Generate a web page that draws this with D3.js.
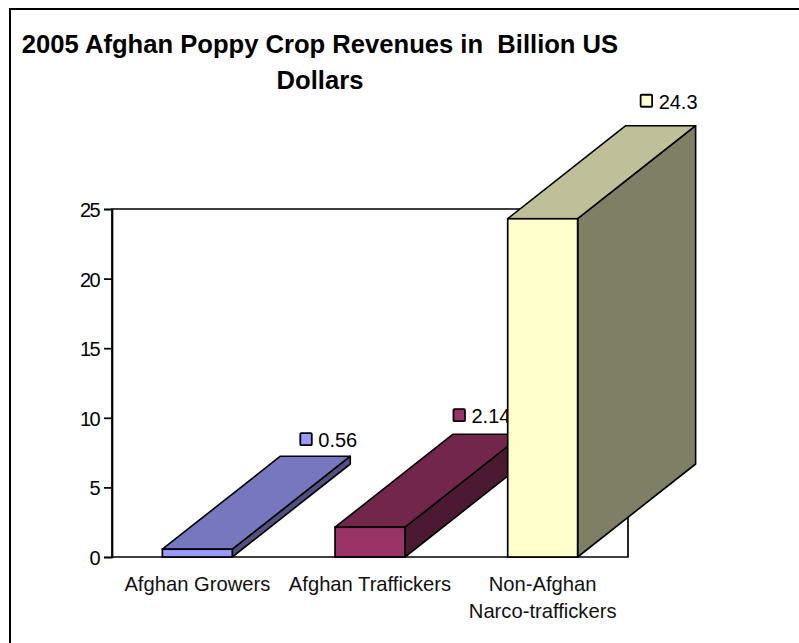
<!DOCTYPE html>
<html><head><meta charset="utf-8">
<script src="https://cdn.jsdelivr.net/npm/d3@7"></script>
<style>html,body{margin:0;padding:0;background:#fff;overflow:hidden}svg{display:block}text{font-family:"Liberation Sans",Arial,sans-serif;fill:#000}</style>
</head><body><svg id="c" width="799" height="643"></svg>
<script>
const categories = ["Afghan Growers", "Afghan Traffickers", "Non-Afghan|Narco-traffickers"];
const values = [0.56, 2.14, 24.3];
const valueLabels = ["0.56", "2.14", "24.3"];
const frontColors = ["#9999ff", "#993366", "#ffffcc"];
const topColors = ["#7777bf", "#72264c", "#bfbf99"];
const sideColors = ["#51517f", "#4c1933", "#7f7f66"];
const yTicks = [0, 5, 10, 15, 20, 25];
const titleLines = ["2005 Afghan Poppy Crop Revenues in  Billion US", "Dollars"];

const svg = d3.select("#c");
// chart frame: top and left edges are inside the window, the others run off it
svg.append("path").attr("d","M10,700V9H810").attr("fill","none").attr("stroke","#000").attr("stroke-width",2);

const x = d3.scaleBand().domain(categories).range([111,629]).paddingInner(0.595).paddingOuter(0.2975);
const y = d3.scaleLinear().domain([0,25]).range([557,209]);
const depthX = 118, depthY = -93;
const wallL = 112, wallR = 628;

svg.append("path").attr("d",`M${wallL},${y(25)}H${wallR}V${y(0)}H${wallL}Z`).attr("fill","#fff").attr("stroke","#000").attr("stroke-width",1.7);

const axis = d3.axisLeft(y).tickValues(yTicks).tickSize(8).tickPadding(5);
const ag = svg.append("g").attr("transform",`translate(${wallL},0)`).call(axis);
ag.select(".domain").attr("stroke","#000").attr("stroke-width",1.7);
ag.selectAll(".tick line").attr("stroke","#000").attr("stroke-width",1.7);
ag.selectAll(".tick text").attr("font-size",20).attr("font-family",'"Liberation Sans"').attr("letter-spacing",-1.6).attr("fill","#111").attr("dy","0.37em");

// the data labels sit by hand above each bar's back edge
const labelShift = {"0.56":[-50,-23], "2.14":[-69.5,-25], "24.3":[-55,-31]};
const pts = a => a.map(p=>p.join(",")).join(" ");
const g = svg.selectAll(".bar").data(d3.range(values.length)).join("g").attr("class","bar");
g.each(function(i){
  const s = d3.select(this), x0=x(categories[i]), x1=x0+x.bandwidth(), t=y(values[i]), b=y(0);
  const bx=x1+depthX, by=t+depthY, [sx,sy]=labelShift[valueLabels[i]];
  s.append("rect").attr("x",bx+sx).attr("y",by+sy).attr("width",11.5).attr("height",12).attr("rx",1).attr("fill",frontColors[i]).attr("stroke","#000").attr("stroke-width",1.8);
  s.append("text").attr("x",bx+sx+18).attr("y",by+sy+14).attr("font-size",20).attr("fill","#111").text(valueLabels[i]);
  s.append("polygon").attr("points",pts([[x1,b],[x1+depthX,b+depthY],[x1+depthX,t+depthY],[x1,t]])).attr("fill",sideColors[i]).attr("stroke","#000").attr("stroke-width",1.6).attr("stroke-linejoin","round");
  s.append("polygon").attr("points",pts([[x0,t],[x0+depthX,t+depthY],[x1+depthX,t+depthY],[x1,t]])).attr("fill",topColors[i]).attr("stroke","#000").attr("stroke-width",1.6).attr("stroke-linejoin","round");
  s.append("rect").attr("x",x0).attr("y",t).attr("width",x.bandwidth()).attr("height",b-t).attr("fill",frontColors[i]).attr("stroke","#000").attr("stroke-width",1.7);
});

categories.forEach(c=>{
  const t = svg.append("text").attr("text-anchor","middle").attr("font-size",20.2).style("fill","#111");
  c.split("|").forEach((l,k)=>t.append("tspan").attr("x",x(c)+x.bandwidth()/2).attr("y",591+k*27).text(l));
});
const tt = svg.append("text").attr("font-size",25.6).attr("font-weight","bold").attr("text-anchor","middle").style("white-space","pre");
titleLines.forEach((l,k)=>tt.append("tspan").attr("x",320).attr("y",53+k*36).text(l));
</script></body></html>
